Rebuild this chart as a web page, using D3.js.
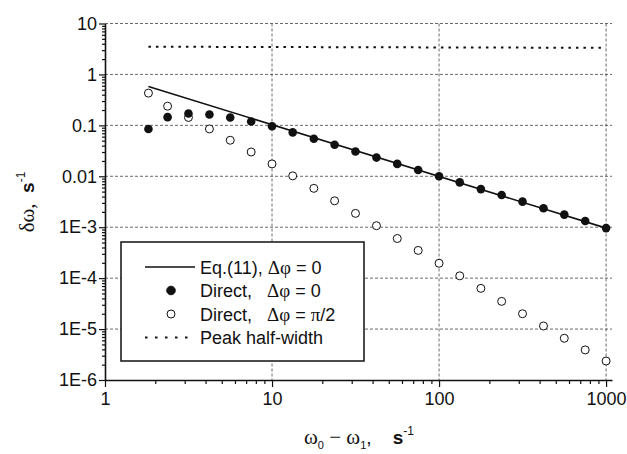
<!DOCTYPE html>
<html>
<head>
<meta charset="utf-8">
<script src="https://cdn.jsdelivr.net/npm/d3@7"></script>
<style>
  body { margin: 0; background: #fff; }
  svg { display: block; }
  text { font-family: "Liberation Sans", Arial, sans-serif; fill: #111; }
  .serif { font-family: "Liberation Serif", "Times New Roman", serif; }
</style>
</head>
<body>
<div id="chart"></div>
<script>
  // frequency difference values (8 per decade)
  const freqDiff = [1.82, 2.37, 3.16, 4.22, 5.62, 7.5, 10, 13.3, 17.8, 23.7, 31.6, 42.2,
                    56.2, 75, 100, 133, 178, 237, 316, 422, 562, 750, 1000];

  // Direct, dphi = 0  (filled)
  const directZero = [0.085, 0.145, 0.171, 0.163, 0.143, 0.119, 0.096, 0.0728, 0.0546, 0.0415,
                      0.0307, 0.0233, 0.0175, 0.0133, 0.0100, 0.0076, 0.0056, 0.0043, 0.00318,
                      0.00235, 0.00177, 0.00132, 0.00096];

  // Direct, dphi = pi/2  (open)
  const directHalfPi = [0.43, 0.238, 0.143, 0.085, 0.051, 0.030, 0.0175, 0.0102, 0.0058, 0.0033,
                        0.00187, 0.00107, 0.0006, 0.00035, 0.000196, 0.000111, 6.3e-5, 3.5e-5,
                        2.0e-5, 1.15e-5, 6.6e-6, 3.9e-6, 2.36e-6];

  // Eq.(11) line end points
  const eqLine = [[1.82, 0.58], [1000, 0.00096]];

  // Peak half-width dotted line
  const halfWidth = [[1.82, 3.5], [1000, 3.33]];

  const xTicks = [1, 10, 100, 1000];
  const xTickLabels = ["1", "10", "100", "1000"];
  const yTicks = [1e-6, 1e-5, 1e-4, 1e-3, 0.01, 0.1, 1, 10];
  const yTickLabels = ["1E-6", "1E-5", "1E-4", "1E-3", "0.01", "0.1", "1", "10"];

  const width = 627, height = 454;
  const plotLeft = 105, plotRight = 612, plotTop = 23.5, plotBottom = 380;

  const svg = d3.select("#chart").append("svg")
    .attr("width", width)
    .attr("height", height);

  const x = d3.scaleLog().domain([1, 1085]).range([plotLeft, plotRight]);
  const y = d3.scaleLog().domain([1e-6, 10]).range([plotBottom, plotTop]);

  // minor tick positions 2..9 per decade
  const minorX = [], minorY = [];
  for (let e = 0; e < 4; e++) for (let m = 2; m <= 9; m++) {
    const v = m * Math.pow(10, e);
    if (v < 1085) minorX.push(v);
  }
  for (let e = -6; e < 1; e++) for (let m = 2; m <= 9; m++) minorY.push(m * Math.pow(10, e));

  // grid
  const grid = svg.append("g")
    .attr("stroke", "#444")
    .attr("stroke-width", 0.8)
    .attr("stroke-dasharray", "3,2");

  grid.selectAll(".hg")
    .data(yTicks.filter(d => d > 1e-6))
    .enter().append("line")
    .attr("x1", plotLeft).attr("x2", plotRight)
    .attr("y1", d => y(d)).attr("y2", d => y(d));

  grid.selectAll(".vg")
    .data(xTicks.filter(d => d > 1))
    .enter().append("line")
    .attr("x1", d => x(d)).attr("x2", d => x(d))
    .attr("y1", plotTop).attr("y2", plotBottom);

  // axes
  const xAxis = svg.append("g").attr("transform", `translate(0,${plotBottom})`)
    .call(d3.axisBottom(x).tickValues(xTicks).tickSize(7).tickSizeOuter(0)
      .tickFormat((d, i) => xTickLabels[i]));
  svg.append("g").attr("transform", `translate(0,${plotBottom})`)
    .call(d3.axisBottom(x).tickValues(minorX).tickSize(4).tickFormat(""))
    .select(".domain").remove();

  const yAxis = svg.append("g").attr("transform", `translate(${plotLeft},0)`)
    .call(d3.axisLeft(y).tickValues(yTicks).tickSize(6).tickSizeOuter(0)
      .tickFormat((d, i) => yTickLabels[i]));
  svg.append("g").attr("transform", `translate(${plotLeft},0)`)
    .call(d3.axisLeft(y).tickValues(minorY).tickSize(3).tickFormat(""))
    .select(".domain").remove();

  svg.selectAll(".domain").attr("stroke", "#111").attr("stroke-width", 1.6);
  svg.selectAll(".tick line").attr("stroke", "#111").attr("stroke-width", 1.2);

  xAxis.selectAll("text")
    .attr("font-size", 18)
    .attr("font-family", "Liberation Sans, Arial, sans-serif")
    .attr("dy", "0.85em");
  yAxis.selectAll("text")
    .attr("font-size", 18)
    .attr("font-family", "Liberation Sans, Arial, sans-serif")
    .attr("x", -8);

  // peak half-width
  const line = d3.line().x(d => x(d[0])).y(d => y(d[1]));
  svg.append("path")
    .datum(halfWidth)
    .attr("d", line)
    .attr("fill", "none")
    .attr("stroke", "#111")
    .attr("stroke-width", 2)
    .attr("stroke-dasharray", "2.5,5");

  // Eq.(11)
  svg.append("path")
    .datum(eqLine)
    .attr("d", line)
    .attr("fill", "none")
    .attr("stroke", "#111")
    .attr("stroke-width", 1.6);

  // open markers
  svg.append("g").selectAll("circle")
    .data(freqDiff.map((f, i) => [f, directHalfPi[i]]))
    .enter().append("circle")
    .attr("cx", d => x(d[0]))
    .attr("cy", d => y(d[1]))
    .attr("r", 4)
    .attr("fill", "#fff")
    .attr("stroke", "#111")
    .attr("stroke-width", 1);

  // filled markers
  svg.append("g").selectAll("circle")
    .data(freqDiff.map((f, i) => [f, directZero[i]]))
    .enter().append("circle")
    .attr("cx", d => x(d[0]))
    .attr("cy", d => y(d[1]))
    .attr("r", 4.3)
    .attr("fill", "#111");

  // legend
  const lg = svg.append("g");
  lg.append("rect")
    .attr("x", 121).attr("y", 242)
    .attr("width", 243).attr("height", 119)
    .attr("fill", "#fff")
    .attr("stroke", "#111")
    .attr("stroke-width", 1.5);

  const rows = [
    { kind: "line", parts: [["Eq.(11), ", 0], ["\u0394\u03c6", 1], [" = 0", 0]] },
    { kind: "filled", parts: [["Direct,   ", 0], ["\u0394\u03c6", 1], [" = 0", 0]] },
    { kind: "open", parts: [["Direct,   ", 0], ["\u0394\u03c6", 1], [" = ", 0], ["\u03c0", 1], ["/2", 0]] },
    { kind: "dots", parts: [["Peak half-width", 0]] }
  ];

  rows.forEach((r, i) => {
    const cy = 267 + i * 23.5;
    if (r.kind === "line") {
      lg.append("line").attr("x1", 145).attr("x2", 195).attr("y1", cy).attr("y2", cy)
        .attr("stroke", "#111").attr("stroke-width", 1.6);
    } else if (r.kind === "dots") {
      lg.append("line").attr("x1", 145).attr("x2", 195).attr("y1", cy).attr("y2", cy)
        .attr("stroke", "#111").attr("stroke-width", 2).attr("stroke-dasharray", "2.5,7.5");
    } else {
      lg.append("circle").attr("cx", 171).attr("cy", cy)
        .attr("r", r.kind === "filled" ? 4.3 : 4)
        .attr("fill", r.kind === "filled" ? "#111" : "#fff")
        .attr("stroke", "#111").attr("stroke-width", 1);
    }
    const t = lg.append("text")
      .attr("x", 200).attr("y", cy + 6.5)
      .attr("font-size", 18)
      .style("white-space", "pre");
    r.parts.forEach(p => {
      t.append("tspan").attr("class", p[1] ? "serif" : null)
        .attr("font-size", p[1] ? 19 : 18)
        .text(p[0]);
    });
  });

  // y axis title
  const yt = svg.append("text")
    .attr("transform", "translate(34,202) rotate(-90)")
    .attr("text-anchor", "middle")
    .attr("font-size", 19)
    .style("white-space", "pre");
  yt.append("tspan").attr("class", "serif").attr("font-size", 21).text("\u03b4\u03c9,  ");
  yt.append("tspan").attr("font-weight", "bold").text("s");
  yt.append("tspan").attr("font-size", 12).attr("dy", -9).text("-1");

  // x axis title
  const xt = svg.append("text")
    .attr("x", 304).attr("y", 444)
    .attr("font-size", 19)
    .style("white-space", "pre");
  xt.append("tspan").attr("class", "serif").attr("font-size", 21).text("\u03c9");
  xt.append("tspan").attr("font-size", 11).attr("dy", 5).text("0");
  xt.append("tspan").attr("class", "serif").attr("font-size", 21).attr("dy", -5).text(" \u2212 \u03c9");
  xt.append("tspan").attr("font-size", 11).attr("dy", 5).text("1");
  xt.append("tspan").attr("dy", -5).text(",    ");
  xt.append("tspan").attr("font-weight", "bold").text("s");
  xt.append("tspan").attr("font-size", 12).attr("dy", -9).text("-1");
</script>
</body>
</html>
